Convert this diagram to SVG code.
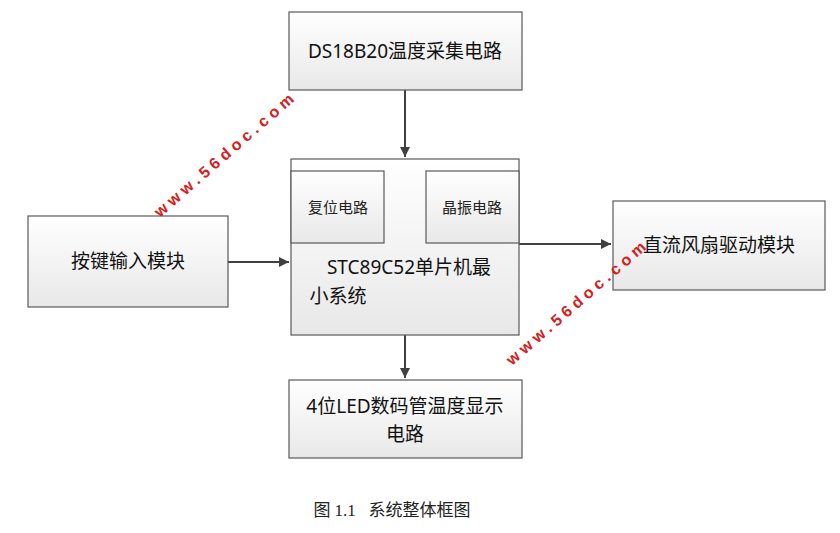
<svg xmlns="http://www.w3.org/2000/svg" width="840" height="533" viewBox="0 0 840 533">
<defs>
<linearGradient id="g" x1="0" y1="0" x2="0" y2="1"><stop offset="0" stop-color="#ffffff"/><stop offset="1" stop-color="#e8e8e8"/></linearGradient>
<marker id="a" viewBox="0 0 10 10" refX="10" refY="5" markerWidth="10" markerHeight="10" markerUnits="userSpaceOnUse" orient="auto"><path d="M0,0L10,5L0,10z" fill="#404040"/></marker>
<style>
.b{fill:url(#g);stroke:#595959;stroke-width:1.2}
.t{font-family:"Noto Sans","Noto Sans CJK SC",sans-serif;font-size:19px;fill:#111;text-anchor:middle}
.s{font-family:"Noto Sans","Noto Sans CJK SC",sans-serif;font-size:15px;fill:#222;text-anchor:middle}
.w{font-family:"Liberation Sans",sans-serif;font-size:16px;font-weight:bold;fill:#d42020;letter-spacing:4.5px}
.c{stroke:#404040;stroke-width:2;fill:none;marker-end:url(#a)}
</style>
</defs>
<g id="connectors">
<path class="c" d="M405,90V157"/>
<path class="c" d="M228,262H289"/>
<path class="c" d="M519,244H611"/>
<path class="c" d="M405,335V378"/>
</g>
<g id="ds18b20"><rect class="b" x="289" y="12" width="233" height="78"/><text class="t" x="405" y="58">DS18B20温度采集电路</text></g>
<g id="key"><rect class="b" x="28" y="216" width="200" height="91"/><text class="t" x="128" y="268">按键输入模块</text></g>
<g id="mcu"><rect class="b" x="291" y="159" width="228" height="176"/>
<text class="t" x="409" y="274">STC89C52单片机最</text><text class="t" x="338" y="303">小系统</text></g>
<g id="reset"><rect class="b" x="291" y="171" width="93" height="72"/><text class="s" x="338" y="213">复位电路</text></g>
<g id="osc"><rect class="b" x="426" y="171" width="93" height="72"/><text class="s" x="472" y="213">晶振电路</text></g>
<g id="fan"><rect class="b" x="613" y="201" width="212" height="89"/><text class="t" x="719" y="252">直流风扇驱动模块</text></g>
<g id="led"><rect class="b" x="289" y="380" width="233" height="78"/><text class="t" x="405" y="413">4位LED数码管温度显示</text><text class="t" x="405" y="441">电路</text></g>
<text x="160" y="218" class="w" transform="rotate(-41 160 218)">www.56doc.com</text>
<text x="512" y="366" class="w" transform="rotate(-41 512 366)">www.56doc.com</text>
<text x="392" y="516" style="font-family:'Liberation Serif','Noto Sans CJK SC',serif;font-size:17px;fill:#222;white-space:pre" text-anchor="middle">图 1.1   系统整体框图</text>
</svg>
